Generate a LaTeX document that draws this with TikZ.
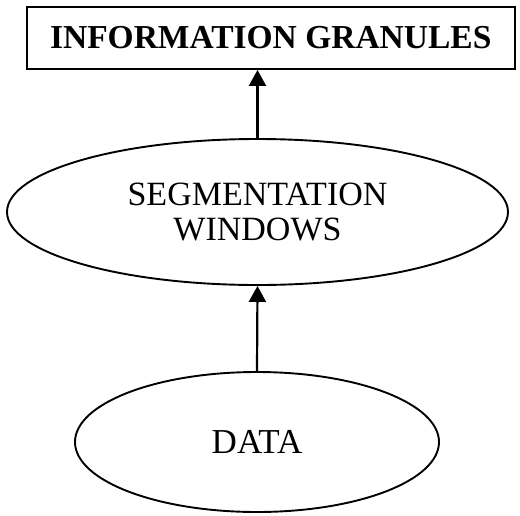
\documentclass[tikz,border=0pt]{standalone}
\usepackage{fontspec}
\setmainfont{Liberation Serif}
\usetikzlibrary{shapes.geometric,arrows.meta}
\begin{document}
\begin{tikzpicture}[x=1pt,y=-1pt,
  boxnode/.style={draw,line width=1.9pt,rectangle,minimum width=488pt,minimum height=62pt,inner sep=0pt,
    font=\fontsize{33.5}{36}\selectfont\bfseries},
  ellnode/.style={draw,line width=1.9pt,ellipse,inner sep=0pt,align=center,
    font=\fontsize{34}{35}\selectfont},
  arr/.style={line width=2.2pt,-{Triangle[length=16pt,width=17pt]}}]
\useasboundingbox (0,0) rectangle (520,515);
\node[boxnode] (info) at (270.75,38) {INFORMATION GRANULES};
\node[ellnode,minimum width=501pt,minimum height=146pt] (seg) at (257.5,212) {SEGMENTATION\\WINDOWS};
\node[ellnode,minimum width=364pt,minimum height=140pt,font=\fontsize{35}{36}\selectfont] (data) at (257,442) {DATA};
\draw[arr] (seg.north) -- (seg.north |- info.south);
\draw[arr] (data.north) -- (seg.south);
\end{tikzpicture}
\end{document}
